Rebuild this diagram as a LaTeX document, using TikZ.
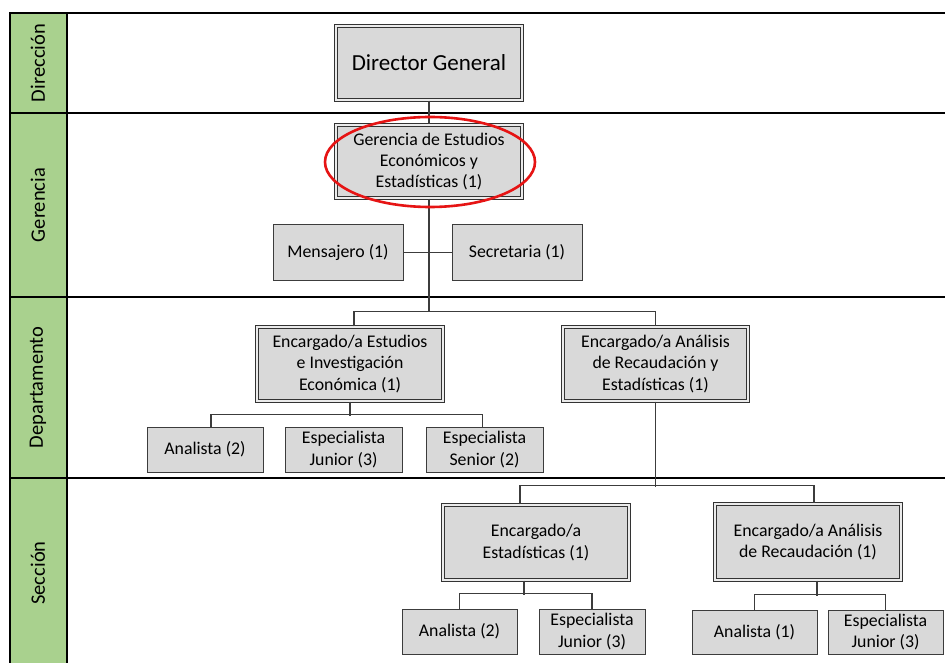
\documentclass[tikz,border=0pt]{standalone}
\usepackage{fontspec}
\setmainfont{Carlito}
\usetikzlibrary{calc}
\definecolor{boxgray}{RGB}{217,217,217}
\definecolor{lanegreen}{RGB}{169,209,142}
\definecolor{linegray}{RGB}{60,60,60}
\definecolor{circred}{RGB}{230,20,20}
\begin{document}
\begin{tikzpicture}[x=1pt,y=-1pt,
  base/.style={draw=linegray, fill=boxgray, line width=1pt, align=center, inner sep=0pt,
    font=\fontsize{17.8}{21.3}\selectfont, text=black},
  singlebox/.style={base},
  dblbox/.style={base, draw=black!80, double=white!92!black, double distance=1.4pt, line width=1.3pt},
  conn/.style={draw=linegray, line width=1.1pt},
  sep/.style={draw=black, line width=2pt},
  lane/.style={rotate=90, font=\fontsize{20.5}{23}\selectfont, text=black}
]
\useasboundingbox (0,0) rectangle (945,663);
\fill[white] (0,0) rectangle (945,663);

% lanes
\fill[lanegreen] (10,13) rectangle (67,663);
\draw[sep] (10,663) -- (10,13) -- (945,13);
\draw[sep] (67,13) -- (67,663);
\draw[sep] (10,113) -- (945,113);
\draw[sep] (10,297) -- (945,297);
\draw[sep] (10,478) -- (945,478);
\node[lane] (l1) at (38,63) {Dirección};
\node[lane] (l2) at (38,205) {Gerencia};
\node[lane] (l3) at (38,387.5) {Departamento};
\node[lane] (l4) at (38,573) {Sección};

% boxes
\node[dblbox, minimum width=186, minimum height=74, font=\fontsize{23}{27}\selectfont] (dg) at (429,63) {Director General};
\node[dblbox, minimum width=186, minimum height=73] (ger) at (429,161.5) {Gerencia de Estudios\\Económicos y\\Estadísticas (1)};
\node[singlebox, minimum width=130, minimum height=55] (men) at (338,252.5) {Mensajero (1)};
\node[singlebox, minimum width=130, minimum height=55] (sec) at (517,252.5) {Secretaria (1)};
\node[dblbox, minimum width=186, minimum height=74] (est) at (350,364) {Encargado/a Estudios\\e Investigación\\Económica (1)};
\node[dblbox, minimum width=185, minimum height=74] (ana) at (655.5,364) {Encargado/a Análisis\\de Recaudación y\\Estadísticas (1)};
\node[singlebox, minimum width=116, minimum height=45] (a1) at (205,449.5) {Analista (2)};
\node[singlebox, minimum width=117, minimum height=45] (j1) at (343.5,449.5) {Especialista\\Junior (3)};
\node[singlebox, minimum width=117, minimum height=45] (s1) at (484.5,449.5) {Especialista\\Senior (2)};
\node[dblbox, minimum width=186, minimum height=75] (e2) at (536,542.5) {Encargado/a\\Estadísticas (1)};
\node[dblbox, minimum width=186, minimum height=76] (e3) at (808,542) {Encargado/a Análisis\\de Recaudación (1)};
\node[singlebox, minimum width=115, minimum height=45] (a2) at (459.5,631.5) {Analista (2)};
\node[singlebox, minimum width=106, minimum height=45] (j2) at (592,631.5) {Especialista\\Junior (3)};
\node[singlebox, minimum width=125, minimum height=44] (a3) at (754.5,632) {Analista (1)};
\node[singlebox, minimum width=115, minimum height=44] (j3) at (885.5,632) {Especialista\\Junior (3)};

% connectors
\coordinate (b1) at (429,312);
\draw[conn] (dg.south) -- (ger.north);
\draw[conn] (ger.south) -- (b1);
\draw[conn] (men.east) -- (sec.west);
\draw[conn] ([xshift=4pt]est.north) -- ++(0,-15) -| (ana.north);
\draw[conn] (est.south) -- ++(0,14);
\draw[conn] ([xshift=6pt]a1.north) -- ++(0,-12) -| ([xshift=-2pt]s1.north);
\draw[conn] (ana.south) -- ++(0,85);
\draw[conn] ([xshift=-16pt]e2.north) -- ++(0,-19) -| ([xshift=6pt]e3.north);
\draw[conn] ([xshift=-12pt]e2.south) -- ++(0,14);
\draw[conn] (a2.north) -- ++(0,-15) -| (j2.north);
\draw[conn] ([xshift=9pt]e3.south) -- ++(0,15);
\draw[conn] (a3.north) -- ++(0,-15) -| (j3.north);

% highlight
\draw[circred, line width=2.6pt] (430,162) ellipse [x radius=105pt, y radius=45pt];
\end{tikzpicture}
\end{document}
